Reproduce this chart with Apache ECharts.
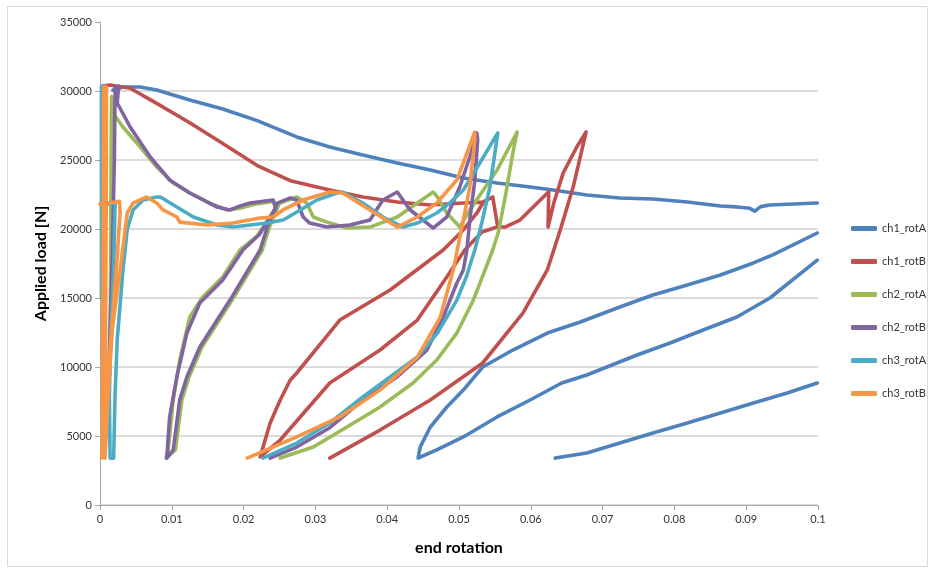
<!DOCTYPE html>
<html>
<head>
<meta charset="utf-8">
<script src="https://cdn.jsdelivr.net/npm/echarts@6/dist/echarts.min.js"></script>
<style>html,body{margin:0;padding:0;background:#fff}#c{width:931px;height:573px}</style>
</head>
<body>
<div id="c"></div>
<script>
// ---------- data (x = end rotation, y = applied load [N]) ----------
const seriesNames = ['ch1_rotA','ch1_rotB','ch2_rotA','ch2_rotB','ch3_rotA','ch3_rotB'];
const xTicks = [0,0.01,0.02,0.03,0.04,0.05,0.06,0.07,0.08,0.09,0.1];
const yTicks = [0,5000,10000,15000,20000,25000,30000,35000];

// ch1_rotA
const ch1A_top = [[0.0018,30070],[0.0032,30290],[0.0056,30290],[0.0079,30070],[0.0125,29350],[0.0171,28700],[0.0219,27850],[0.0274,26670],[0.032,25940],[0.0366,25360],[0.0414,24780],[0.046,24270],[0.0506,23690],[0.0553,23330],[0.0599,23040],[0.0631,22830],[0.0678,22460],[0.0724,22250],[0.077,22170],[0.0818,21960],[0.0864,21670],[0.0887,21600],[0.0905,21500],[0.0912,21300],[0.092,21620],[0.0933,21740],[0.0999,21880]];
const ch1A_loop = [[0.0999,19710],[0.0937,18120],[0.091,17540],[0.0864,16670],[0.0818,15940],[0.077,15220],[0.0724,14350],[0.0669,13260],[0.0623,12460],[0.0575,11230],[0.0533,10000],[0.0506,8330],[0.0483,7100],[0.046,5650],[0.0446,4200],[0.0443,3406],[0.0469,3990],[0.0506,4930],[0.0553,6380],[0.0599,7610],[0.0643,8840],[0.0678,9420],[0.0748,10870],[0.0794,11740],[0.084,12680],[0.0887,13620],[0.0933,15000],[0.0999,17750]];
const ch1A_last = [[0.0634,3400],[0.0645,3500],[0.0678,3770],[0.0724,4490],[0.077,5220],[0.0818,5940],[0.0864,6670],[0.091,7390],[0.0957,8120],[0.0999,8840]];

// ch1_rotB
const ch1B_main = [[0.0008,30400],[0.0014,30430],[0.0042,30200],[0.0079,29100],[0.0125,27700],[0.0171,26200],[0.0219,24600],[0.0265,23500],[0.032,22830],[0.0366,22320],[0.0414,21960],[0.046,21740],[0.0506,21880],[0.0533,21950],[0.0547,22320],[0.0554,20140],[0.0564,20140],[0.0585,20650],[0.0609,21880],[0.0625,22700],[0.0624,20140],[0.0632,21880],[0.0645,24050],[0.0664,25940],[0.0677,27030],[0.0659,23040],[0.0641,19930],[0.0623,17030],[0.0589,13910],[0.0533,10290],[0.046,7610],[0.039,5430],[0.032,3400]];
const ch1B_loop = [[0.0533,21880],[0.0525,21160],[0.0506,19930],[0.0478,18480],[0.0404,15580],[0.0334,13400],[0.0274,9565],[0.0265,9060],[0.0251,7610],[0.0237,5940],[0.0223,3480],[0.0251,4710],[0.032,8840],[0.039,11230],[0.0442,13400],[0.0483,16520],[0.0508,18480],[0.0532,19780],[0.0553,20140]];

// ch2_rotA
const ch2A_main = [[0.0014,10000],[0.0016,29600],[0.0018,28400],[0.0032,27390],[0.0056,25940],[0.0079,24490],[0.0102,23330],[0.0125,22610],[0.0153,21880],[0.0177,21380],[0.0195,21500],[0.0215,21800],[0.0242,22000],[0.0244,21500],[0.0219,19500],[0.0195,18480],[0.0171,16520],[0.0143,15070],[0.0125,13620],[0.0111,10510],[0.0102,7610],[0.0095,3990],[0.0092,3400],[0.0105,3990],[0.0114,7610],[0.0124,9280],[0.0142,11450],[0.0184,14850],[0.0226,18480],[0.0236,20140],[0.025,21880],[0.0274,22320],[0.0288,21880],[0.0297,20870],[0.032,20430],[0.0344,20070],[0.0376,20140],[0.0414,20870],[0.0442,21880],[0.0464,22680],[0.047,22320],[0.0483,21160],[0.0501,20140],[0.0515,21380],[0.0553,24270],[0.0581,27030],[0.0575,25510],[0.0565,22500],[0.0555,19800],[0.0547,18480],[0.052,14850],[0.0497,12460],[0.0469,10510],[0.0436,8840],[0.039,7100],[0.0344,5650],[0.0297,4200],[0.0251,3400]];

// ch2_rotB
const ch2B_main = [[0.0012,9300],[0.0017,18000],[0.002,25000],[0.0021,30300],[0.0026,30350],[0.0024,29130],[0.0042,27390],[0.007,25220],[0.0097,23550],[0.0125,22610],[0.0163,21590],[0.0181,21380],[0.0191,21590],[0.0209,21880],[0.0241,22100],[0.0245,21500],[0.0222,19600],[0.0199,18480],[0.0171,16300],[0.0139,14640],[0.0121,12460],[0.0107,9280],[0.0097,6380],[0.0093,3400],[0.0102,3990],[0.0111,7610],[0.0121,9280],[0.0139,11450],[0.0181,14850],[0.0223,18480],[0.0233,20140],[0.0247,21880],[0.0265,22250],[0.0274,22100],[0.0283,20870],[0.0292,20430],[0.0316,20140],[0.0348,20290],[0.0376,20650],[0.0394,22100],[0.0414,22680],[0.0432,21380],[0.045,20650],[0.0464,20070],[0.0483,20870],[0.0501,23040],[0.0515,25220],[0.0525,26950],[0.0526,26450],[0.0522,23500],[0.0515,20650],[0.0511,18480],[0.0506,17030],[0.0497,16090],[0.0478,13620],[0.0455,11200],[0.0414,9300],[0.0366,7600],[0.032,5600],[0.0274,4200],[0.0237,3400]];

// ch3_rotA
const ch3A_vert = [[0.0002,15000],[0.0002,30300],[0.0004,30400]];
const ch3A_main = [[0.0012,21800],[0.0021,21900],[0.0019,17000],[0.0015,12000],[0.0013,8000],[0.0014,3400],[0.0019,3400],[0.0021,8000],[0.0024,12000],[0.0032,17030],[0.0038,20000],[0.0046,21380],[0.006,22100],[0.0079,22320],[0.0084,22320],[0.0107,21590],[0.013,20870],[0.0163,20290],[0.0185,20140],[0.0233,20430],[0.0255,20650],[0.0279,21380],[0.0302,22100],[0.033,22610],[0.0338,22680],[0.0366,21880],[0.0394,20870],[0.0422,20140],[0.0442,20430],[0.0469,21160],[0.0487,21880],[0.0506,22830],[0.0529,24780],[0.0554,26960],[0.055,25510],[0.0543,23040],[0.0532,20500],[0.0522,18480],[0.051,16500],[0.0497,14850],[0.047,12460],[0.0442,10720],[0.0404,9280],[0.0366,7830],[0.032,5940],[0.0274,4490],[0.0227,3400]];

// ch3_rotB
const ch3B_vert = [[0.0003,3400],[0.0004,15000],[0.0005,30300],[0.0009,30300],[0.0009,25000],[0.0008,15000],[0.0007,3400]];
const ch3B_main = [[0.0000,21800],[0.0015,21900],[0.0027,22000],[0.0028,21200],[0.0024,18000],[0.0018,14000],[0.0012,10000],[0.0008,6000],[0.0007,3400],[0.0009,3400],[0.0011,7600],[0.0017,12680],[0.0028,17030],[0.0038,21160],[0.0046,21880],[0.0065,22320],[0.0079,21880],[0.0088,21380],[0.0107,20870],[0.0111,20500],[0.0149,20290],[0.0185,20430],[0.0223,20800],[0.0241,20870],[0.0255,21380],[0.0274,21880],[0.0283,22100],[0.032,22680],[0.0338,22610],[0.0376,21380],[0.0414,20140],[0.0442,20870],[0.0469,21880],[0.0497,23550],[0.0522,27030],[0.0522,26450],[0.0515,23040],[0.0506,20650],[0.0492,17030],[0.0474,13620],[0.0442,10720],[0.039,8330],[0.0334,6380],[0.0274,4930],[0.0205,3400]];

const colors = ['#4F81BD','#C0504D','#9BBB59','#8064A2','#4BACC6','#F79646'];

// join segments with a gap (null) between them
function joinSegs(segs){
  const out = [];
  segs.forEach((s,i)=>{ if(i>0) out.push(null); s.forEach(p=>out.push(p)); });
  return out;
}
const seriesData = [
  joinSegs([ch1A_top, ch1A_loop, ch1A_last]),
  joinSegs([ch1B_main, ch1B_loop]),
  joinSegs([ch2A_main]),
  joinSegs([ch2B_main]),
  joinSegs([ch3A_vert, ch3A_main]),
  joinSegs([ch3B_vert, ch3B_main])
];

const FONT = 'Lato, "Liberation Sans", sans-serif';
const chart = echarts.init(document.getElementById('c'), null, {renderer:'canvas'});
chart.setOption({
  animation:false,
  backgroundColor:'#ffffff',
  graphic:[{type:'rect',shape:{x:7.5,y:6.5,width:920,height:560},style:{fill:'none',stroke:'#d9d9d9',lineWidth:1},silent:true}],
  grid:{left:100,right:113,top:22,bottom:68},
  legend:{
    orient:'vertical', left:846, top:218, itemGap:22,
    itemWidth:26, itemHeight:5, icon:'roundRect',
    textStyle:{fontFamily:FONT,fontSize:11,color:'#333'},
    data:seriesNames
  },
  xAxis:{
    type:'value', min:xTicks[0], max:xTicks[xTicks.length-1], interval:0.01,
    name:'end rotation', nameLocation:'middle', nameGap:35,
    nameTextStyle:{fontFamily:FONT,fontSize:16,fontWeight:'bold',color:'#000'},
    axisLine:{lineStyle:{color:'#a6a6a6',width:1}},
    axisTick:{show:true,length:5,lineStyle:{color:'#a6a6a6'}},
    axisLabel:{fontFamily:FONT,fontSize:11,color:'#333',margin:9,
      formatter:v=>{const t=xTicks.find(k=>Math.abs(k-v)<1e-9);return t===undefined?'':String(t);}},
    splitLine:{show:false}
  },
  yAxis:{
    type:'value', min:yTicks[0], max:yTicks[yTicks.length-1], interval:5000,
    name:'Applied load [N]', nameLocation:'middle', nameGap:50,
    nameTextStyle:{fontFamily:FONT,fontSize:16,fontWeight:'bold',color:'#000'},
    axisLine:{show:true,lineStyle:{color:'#a6a6a6',width:1}},
    axisTick:{show:true,length:5,lineStyle:{color:'#a6a6a6'}},
    axisLabel:{fontFamily:FONT,fontSize:11,color:'#333',margin:8,
      formatter:v=>{const t=yTicks.find(k=>Math.abs(k-v)<1e-6);return t===undefined?'':String(t);}},
    splitLine:{show:true,showMaxLine:false,lineStyle:{color:'#cfcfcf',width:1.5}}
  },
  series: seriesNames.map((n,i)=>({
    name:n, type:'line', data:seriesData[i], showSymbol:false, symbol:'none',
    connectNulls:false, clip:true,
    lineStyle:{color:colors[i],width:3.6,cap:'round',join:'round'},
    itemStyle:{color:colors[i]}
  }))
});
</script>
</body>
</html>
